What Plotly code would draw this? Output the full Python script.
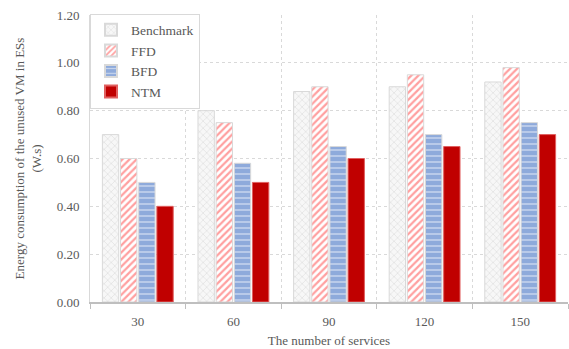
import plotly.graph_objects as go

categories = ["30", "60", "90", "120", "150"]
benchmark = [0.70, 0.80, 0.88, 0.90, 0.92]
ffd = [0.60, 0.75, 0.90, 0.95, 0.98]
bfd = [0.50, 0.58, 0.65, 0.70, 0.75]
ntm = [0.40, 0.50, 0.60, 0.65, 0.70]
y_ticks = [0.0, 0.2, 0.4, 0.6, 0.8, 1.0, 1.2]

font = "Liberation Serif"
gray = "#595959"

fig = go.Figure()
fig.add_trace(go.Bar(
    name="Benchmark", x=categories, y=benchmark,
    marker=dict(color="#f2f2f2", line=dict(color="#d9d9d9", width=1),
                pattern=dict(shape="x", fgcolor="#d0d0d0", bgcolor="#f7f7f7", size=5, solidity=0.3))))
fig.add_trace(go.Bar(
    name="FFD", x=categories, y=ffd,
    marker=dict(color="#ffffff", line=dict(color="#d9d9d9", width=1),
                pattern=dict(shape="/", fgcolor="#ff4040", bgcolor="#ffffff", size=5, solidity=0.45))))
fig.add_trace(go.Bar(
    name="BFD", x=categories, y=bfd,
    marker=dict(color="#8eaadb", line=dict(color="#d9d9d9", width=1),
                pattern=dict(shape="-", fgcolor="#ffffff", bgcolor="#8eaadb", size=6, solidity=0.25))))
fig.add_trace(go.Bar(
    name="NTM", x=categories, y=ntm,
    marker=dict(color="#c00000", line=dict(color="#e06060", width=1))))

fig.update_layout(
    width=569, height=349,
    margin=dict(l=90, r=1, t=15, b=47, autoexpand=False),
    paper_bgcolor="white", plot_bgcolor="white",
    barmode="group", bargap=0.24, bargroupgap=0.1,
    font=dict(family=font, size=13, color=gray),
    legend=dict(x=0, y=1.005, xanchor="left", yanchor="top",
                bordercolor="#d9d9d9", borderwidth=1, bgcolor="white",
                font=dict(family=font, size=13.5, color=gray),
                tracegroupgap=0, itemwidth=30, itemsizing="constant"),
    showlegend=True,
)
fig.update_xaxes(
    title=dict(text="The number of services", font=dict(family=font, size=13, color=gray), standoff=8),
    automargin=False,
    tickson="boundaries", ticks="outside", ticklen=5, tickcolor="#bfbfbf",
    ticklabelstandoff=7,
    showline=True, linecolor="#bfbfbf", linewidth=1.5,
    showgrid=True, gridcolor="#d9d9d9", griddash="dot", gridwidth=1,
    tickfont=dict(family=font, size=13, color=gray),
)
fig.update_yaxes(
    title=dict(text="Energy consumption of the unused VM in ESs<br>(W.s)",
               font=dict(family=font, size=13, color=gray), standoff=12),
    automargin=False,
    range=[0, 1.2], tickvals=y_ticks, tickformat=".2f",
    ticklabelstandoff=7,
    showline=True, linecolor="#d9d9d9", linewidth=1,
    showgrid=True, gridcolor="#d9d9d9", griddash="dot", gridwidth=1,
    zeroline=False,
    tickfont=dict(family=font, size=13, color=gray),
)
fig.write_html("out.html", config={"displayModeBar": False},
               post_script="document.body.style.margin='0';")
